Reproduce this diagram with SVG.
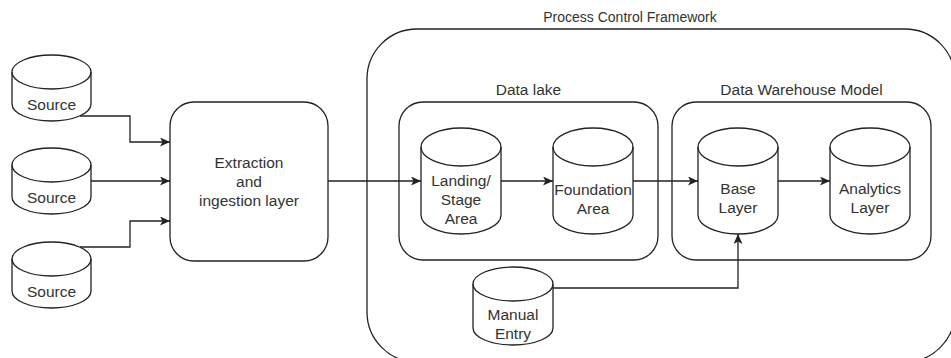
<svg xmlns="http://www.w3.org/2000/svg" width="951" height="358" viewBox="0 0 951 358">
<style>
.s{fill:#fff;stroke:#222;stroke-width:1.3}
.c{fill:none;stroke:#222;stroke-width:1.3}
.t{font-family:"Liberation Sans",Arial,sans-serif;font-size:15.5px;fill:#333;text-anchor:middle}
.e{fill:none;stroke:#222;stroke-width:1.3}
</style>
<defs>
<marker id="arr" markerUnits="userSpaceOnUse" markerWidth="11" markerHeight="10" refX="10" refY="4.5" orient="auto">
<path d="M0,0 L10,4.5 L0,9 L2.5,4.5 Z" fill="#222"/>
</marker>
</defs>
<rect width="951" height="358" fill="#fff"/>

<g id="pcf">
<rect class="s" x="367" y="29" width="588" height="333" rx="50" ry="50"/>
<text class="t" x="630" y="22" style="font-size:14px">Process Control Framework</text>
</g>
<g id="datalake">
<rect class="s" x="399" y="102" width="259" height="158" rx="24" ry="24"/>
<text class="t" x="528.5" y="95">Data lake</text>
</g>
<g id="dwh">
<rect class="s" x="672" y="102" width="259" height="158" rx="24" ry="24"/>
<text class="t" x="801.5" y="95">Data Warehouse Model</text>
</g>

<g id="source1">
<path class="s" d="M12,72 A39.5,17 0 0 1 91,72 L91,104 A39.5,17 0 0 1 12,104 Z"/>
<path class="c" d="M12,72 A39.5,17 0 0 0 91,72"/>
<text class="t" x="51.5" y="110">Source</text>
</g>
<g id="source2">
<path class="s" d="M12,165 A39.5,17 0 0 1 91,165 L91,197 A39.5,17 0 0 1 12,197 Z"/>
<path class="c" d="M12,165 A39.5,17 0 0 0 91,165"/>
<text class="t" x="51.5" y="203">Source</text>
</g>
<g id="source3">
<path class="s" d="M12,259 A39.5,17 0 0 1 91,259 L91,291 A39.5,17 0 0 1 12,291 Z"/>
<path class="c" d="M12,259 A39.5,17 0 0 0 91,259"/>
<text class="t" x="51.5" y="297">Source</text>
</g>

<g id="extraction">
<rect class="s" x="170" y="102" width="158" height="159" rx="24" ry="24"/>
<text class="t" x="249" y="168">Extraction</text>
<text class="t" x="249" y="187">and</text>
<text class="t" x="249" y="206">ingestion layer</text>
</g>

<g id="landing">
<path class="s" d="M421,147 A40,19 0 0 1 501,147 L501,215 A40,19 0 0 1 421,215 Z"/>
<path class="c" d="M421,147 A40,19 0 0 0 501,147"/>
<text class="t" x="461" y="186">Landing/</text>
<text class="t" x="461" y="205">Stage</text>
<text class="t" x="461" y="224">Area</text>
</g>
<g id="foundation">
<path class="s" d="M553,147 A40,19 0 0 1 633,147 L633,215 A40,19 0 0 1 553,215 Z"/>
<path class="c" d="M553,147 A40,19 0 0 0 633,147"/>
<text class="t" x="593" y="195">Foundation</text>
<text class="t" x="593" y="214">Area</text>
</g>
<g id="base">
<path class="s" d="M698,147 A40,19 0 0 1 778,147 L778,215 A40,19 0 0 1 698,215 Z"/>
<path class="c" d="M698,147 A40,19 0 0 0 778,147"/>
<text class="t" x="738" y="194">Base</text>
<text class="t" x="738" y="213">Layer</text>
</g>
<g id="analytics">
<path class="s" d="M830,147 A40,19 0 0 1 910,147 L910,215 A40,19 0 0 1 830,215 Z"/>
<path class="c" d="M830,147 A40,19 0 0 0 910,147"/>
<text class="t" x="870" y="194">Analytics</text>
<text class="t" x="870" y="213">Layer</text>
</g>
<g id="manual">
<path class="s" d="M473,284 A40,17 0 0 1 553,284 L553,328 A40,17 0 0 1 473,328 Z"/>
<path class="c" d="M473,284 A40,17 0 0 0 553,284"/>
<text class="t" x="513" y="320">Manual</text>
<text class="t" x="513" y="339">Entry</text>
</g>

<g id="connectors">
<path class="e" d="M80,116 L130,116 L130,142 L170,142" marker-end="url(#arr)"/>
<path class="e" d="M91,181 L170,181" marker-end="url(#arr)"/>
<path class="e" d="M80,247 L130,247 L130,221 L170,221" marker-end="url(#arr)"/>
<path class="e" d="M328,181 L421,181" marker-end="url(#arr)"/>
<path class="e" d="M501,181 L553,181" marker-end="url(#arr)"/>
<path class="e" d="M633,181 L698,181" marker-end="url(#arr)"/>
<path class="e" d="M778,181 L830,181" marker-end="url(#arr)"/>
<path class="e" d="M553,288 L738,288 L738,234" marker-end="url(#arr)"/>
</g>
</svg>
